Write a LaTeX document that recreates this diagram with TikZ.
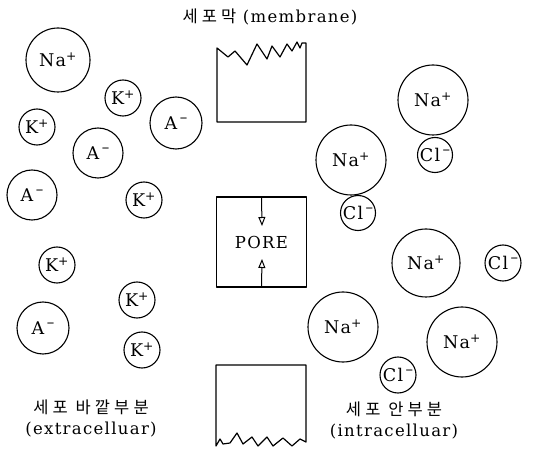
\documentclass[tikz,border=0pt]{standalone}
\usepackage{fontspec}
\setmainfont{DejaVu Serif}[LetterSpace=8]
\newfontfamily\kr{Noto Sans CJK KR}[LetterSpace=25]
\usetikzlibrary{arrows.meta}
\tikzset{
  ion/.style={circle, draw, line width=1.1pt, inner sep=0pt, font=\fontsize{17.5}{17.5}\selectfont},
  big/.style={ion, minimum size=68pt},
  mid/.style={ion, minimum size=50pt},
  small/.style={ion, minimum size=36pt},
  wall/.style={line width=1.2pt, line join=round},
  lbl/.style={font=\fontsize{16.5}{21}\selectfont, align=center},
  porearrow/.style={line width=1pt, -{Triangle[open, length=9pt, width=7pt]}}
}
\newcommand{\pl}{\textsuperscript{+}}
\newcommand{\mn}{\raisebox{0.75ex}{\fontsize{15}{15}\selectfont\,–}}
\begin{document}
\begin{tikzpicture}[x=1pt, y=-1pt]
\useasboundingbox (0,0) rectangle (536,449);
% title
\node[lbl] (title) at (270,17) {{\kr 세포막} (membrane)};
% top membrane block
\draw[wall] (217,48) -- (217,122) -- (306,122) -- (306,43) -- (302,43) -- (300,48) -- (297,42)
  -- (292,51) -- (287,44) -- (280,57) -- (272,46) -- (267,59) -- (257,44) -- (247,65)
  -- (235,51) -- (228,57) -- cycle;
% pore
\node[draw, wall, minimum width=90pt, minimum height=90pt, inner sep=0pt, font=\fontsize{16.5}{16.5}\selectfont] (pore) at (261.5,242) {PORE};
\coordinate (dtip) at (262,226);
\coordinate (utip) at (262,259);
\draw[porearrow] (pore.north) -- (dtip);
\draw[porearrow] (pore.south) -- (utip);
% bottom membrane block
\draw[wall] (216,365) -- (306,365) -- (306,442) -- (300,439) -- (292,446) -- (283,438) -- (273,446)
  -- (267,437) -- (258,446) -- (252,437) -- (243,444) -- (237,433) -- (230,443) -- (223,444)
  -- (220,439) -- (216,446) -- cycle;
% extracellular ions
\node[mid, minimum size=64pt] (na0) at (58,60) {Na\pl};
\node[small] (k1) at (123,98) {K\pl};
\node[small] (k2) at (37,127) {K\pl};
\node[mid, minimum size=52pt] (a1) at (176,123) {A\mn};
\node[mid] (a2) at (98,153) {A\mn};
\node[mid] (a3) at (32,195) {A\mn};
\node[small] (k3) at (144,200) {K\pl};
\node[small] (k4) at (57,265) {K\pl};
\node[small] (k5) at (137,300) {K\pl};
\node[mid, minimum size=52pt] (a4) at (43,328) {A\mn};
\node[small] (k6) at (142,350) {K\pl};
% intracellular ions
\node[big, minimum size=70pt] (na1) at (433,100) {Na\pl};
\node[big, minimum size=70pt] (na2) at (351,160) {Na\pl};
\node[small, minimum size=35pt] (cl1) at (435,155) {Cl\mn};
\node[small, minimum size=35pt] (cl2) at (358,213) {Cl\mn};
\node[big] (na3) at (426,263) {Na\pl};
\node[small] (cl3) at (503,263) {Cl\mn};
\node[big, minimum size=70pt] (na4) at (343,327) {Na\pl};
\node[big, minimum size=70pt] (na5) at (462,342) {Na\pl};
\node[small] (cl4) at (398,375) {Cl\mn};
% labels
\node[lbl] (ext) at (91,418) {{\kr 세포 바깥부분}\\(extracelluar)};
\node[lbl] (int) at (394,420) {{\kr 세포 안부분}\\(intracelluar)};
\end{tikzpicture}
\end{document}
